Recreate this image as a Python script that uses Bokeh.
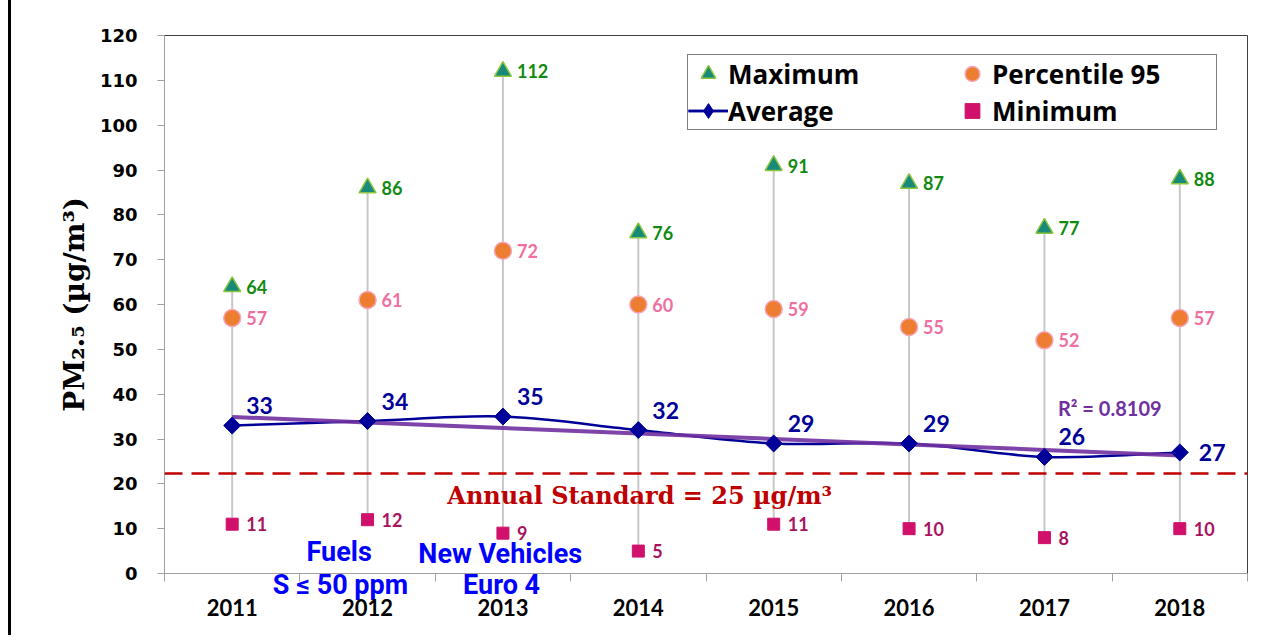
import numpy as np
from bokeh.plotting import figure
from bokeh.models import FixedTicker, Legend, LegendItem, Label, Span, LinearAxis
from bokeh.core.properties import value
from bokeh.embed import file_html
from bokeh.resources import INLINE

# ---------------- data ----------------
years = ["2011", "2012", "2013", "2014", "2015", "2016", "2017", "2018"]
maximum = [64, 86, 112, 76, 91, 87, 77, 88]
percentile95 = [57, 61, 72, 60, 59, 55, 52, 57]
average = [33, 34, 35, 32, 29, 29, 26, 27]
minimum = [11, 12, 9, 5, 11, 10, 8, 10]
y_ticks = [0, 10, 20, 30, 40, 50, 60, 70, 80, 90, 100, 110, 120]
standard_level = 22.3
r2_text = "R\u00b2 = 0.8109"
lower_notes = ["S \u2264 50 ppm", "Euro 4"]
lower_notes_x = [1.30, 2.49]

n = len(years)
xc = np.arange(n) + 0.5

p = figure(frame_width=1083, frame_height=538, x_range=(0, n), y_range=(0, 120),
           x_axis_location=None,
           output_backend="svg", toolbar_location=None,
           min_border_left=153, min_border_top=35, min_border_right=12, min_border_bottom=62)
p.styles = {"margin-left": "8px", "border-left": "3px solid black"}
p.xgrid.visible = False
p.ygrid.visible = False
p.outline_line_color = "#404040"
p.outline_line_width = 1
p.background_fill_color = "white"

blue_font = "Roboto"

# x axis nearest the frame: category separators + blue notes below the axis
ax_notes = LinearAxis(ticker=FixedTicker(ticks=lower_notes_x, minor_ticks=list(range(n + 1))),
                      major_label_overrides={float(x): t for x, t in zip(lower_notes_x, lower_notes)},
                      major_tick_out=0, major_tick_in=0, minor_tick_out=8, minor_tick_in=0,
                      minor_tick_line_color="#A0A0A0", axis_line_color="#A0A0A0",
                      major_label_standoff=-13, major_label_text_font=blue_font,
                      major_label_text_font_style="bold", major_label_text_font_size="27px",
                      major_label_text_color="#0000FF")
# year labels
ax_years = LinearAxis(ticker=FixedTicker(ticks=list(xc), minor_ticks=[]),
                      major_label_overrides={float(x): y for x, y in zip(xc, years)},
                      major_tick_out=0, major_tick_in=0, minor_tick_out=0, minor_tick_in=0,
                      major_tick_line_color=None, minor_tick_line_color=None, axis_line_color=None,
                      major_label_standoff=-5, major_label_text_font="Lato",
                      major_label_text_font_style="bold", major_label_text_font_size="22px",
                      major_label_text_color="black")
p.add_layout(ax_notes, "below")
p.add_layout(ax_years, "below")

# y axis
p.yaxis.ticker = FixedTicker(ticks=y_ticks, minor_ticks=[])
p.yaxis.major_tick_out = 7
p.yaxis.major_tick_in = 0
p.yaxis.major_tick_line_color = "#A0A0A0"
p.yaxis.axis_line_color = "#A0A0A0"
p.yaxis.major_label_standoff = 20
p.yaxis.major_label_text_font = "DejaVu Sans"
p.yaxis.major_label_text_font_style = "bold"
p.yaxis.major_label_text_font_size = "18px"
p.yaxis.major_label_text_color = "black"
p.yaxis.axis_label = "PM\u2082.\u2085 (\u00b5g/m\u00b3)"
p.yaxis.axis_label_text_font = "DejaVu Serif"
p.yaxis.axis_label_text_font_style = "bold"
p.yaxis.axis_label_text_font_size = "28px"
p.yaxis.axis_label_text_color = "black"
p.yaxis.axis_label_standoff = 6

# high-low lines
p.segment(x0=xc, y0=minimum, x1=xc, y1=maximum, line_color="#C8C8C8", line_width=2)

# trend line (linear fit of the averages)
xi = np.arange(1, n + 1)
slope, intercept = np.polyfit(xi, average, 1)
trend = slope * xi + intercept

# smoothed average line via cubic Bezier segments (Catmull-Rom control points)
ya = np.array(average, dtype=float)
xs = np.array(xc)
xp = np.concatenate([[xs[0]], xs, [xs[-1]]])
yp = np.concatenate([[ya[0]], ya, [ya[-1]]])
cx0 = xs[:-1] + (xp[2:-1] - xp[:-3]) / 6.0
cy0 = ya[:-1] + (yp[2:-1] - yp[:-3]) / 6.0
cx1 = xs[1:] - (xp[3:] - xp[1:-2]) / 6.0
cy1 = ya[1:] - (yp[3:] - yp[1:-2]) / 6.0
r_bez = p.bezier(x0=xs[:-1], y0=ya[:-1], x1=xs[1:], y1=ya[1:], cx0=cx0, cy0=cy0, cx1=cx1, cy1=cy1,
                 line_color="#000099", line_width=2.5)
p.line(xc, trend, line_color="#7030A0", line_width=4, line_alpha=0.9)

# standard
p.add_layout(Span(location=standard_level, dimension="width", line_color="#C00000",
                  line_dash="18 9", line_width=2.5))

# markers
r_max = p.scatter(xc, maximum, marker="triangle", size=17, fill_color="#178A7A",
                  line_color="#8CC63F", line_width=1.5)
r_p95 = p.scatter(xc, percentile95, marker="circle", size=17, fill_color="#ED7D31",
                  line_color="#F4A6B8", line_width=1.5)
r_avg = p.scatter(xc, average, marker="square", angle=np.pi / 4, size=12,
                  fill_color="#000099", line_color="#000099")
r_min = p.scatter(xc, minimum, marker="square", size=12, fill_color="#D0106B",
                  line_color="#D0106B")
# legend-only glyphs (not shown in the plot area)
r_avg_leg_line = p.line([np.nan, np.nan], [np.nan, np.nan], line_color="#000099", line_width=2.5)
r_avg_leg = p.scatter([np.nan], [np.nan], marker="diamond", size=12,
                      fill_color="#000099", line_color="#000099")

# data labels
lab_font = value("Lato")
p.text(xc, maximum, text=[str(v) for v in maximum], x_offset=14, text_baseline="middle",
       text_font=lab_font, text_font_style="bold", text_font_size="18px", text_color="#108A10")
p.text(xc, percentile95, text=[str(v) for v in percentile95], x_offset=14, text_baseline="middle",
       text_font=lab_font, text_font_style="bold", text_font_size="18px", text_color="#F06EA0")
p.text(xc, minimum, text=[str(v) for v in minimum], x_offset=14, text_baseline="middle",
       text_font=lab_font, text_font_style="bold", text_font_size="18px", text_color="#A8145E")
avg_dx = [14] * (n - 1) + [19]
avg_dy = [-20] * (n - 1) + [0]
p.text(xc, average, text=[str(v) for v in average], x_offset=avg_dx, y_offset=avg_dy,
       text_baseline="middle", text_font=lab_font, text_font_style="bold",
       text_font_size="23px", text_color="#000099")

# annotations
p.add_layout(Label(x=6.6, y=37, text=r2_text, text_baseline="middle", text_font="Lato",
                   text_font_style="bold", text_font_size="20px", text_color="#7030A0"))
p.add_layout(Label(x=3.51, y=17.4, text="Annual Standard = 25 \u00b5g/m\u00b3", text_align="center",
                   text_baseline="middle", text_font="DejaVu Serif", text_font_style="bold",
                   text_font_size="24px", text_color="#C00000"))
for tx, x, y in [("Fuels", 1.29, 4.7), ("New Vehicles", 2.48, 4.45)]:
    p.add_layout(Label(x=x, y=y, text=tx, text_align="center", text_baseline="middle",
                       text_font=blue_font, text_font_style="bold", text_font_size="27px",
                       text_color="#0000FF"))

legend = Legend(items=[LegendItem(label="Maximum", renderers=[r_max]),
                       LegendItem(label="Percentile 95", renderers=[r_p95]),
                       LegendItem(label="Average", renderers=[r_bez, r_avg_leg_line, r_avg_leg]),
                       LegendItem(label="Minimum", renderers=[r_min])],
                location=(523, 443), orientation="horizontal", ncols=2,
                label_text_font="Open Sans", label_text_font_style="bold",
                label_text_font_size="26px", label_text_color="black",
                glyph_width=40, glyph_height=37, label_height=37, label_width=224,
                label_standoff=0, spacing=0, padding=0, margin=0,
                border_line_color="black", border_line_width=1,
                background_fill_color="white", background_fill_alpha=1)
p.add_layout(legend)

open("out.html", "w").write(file_html(p, INLINE))
